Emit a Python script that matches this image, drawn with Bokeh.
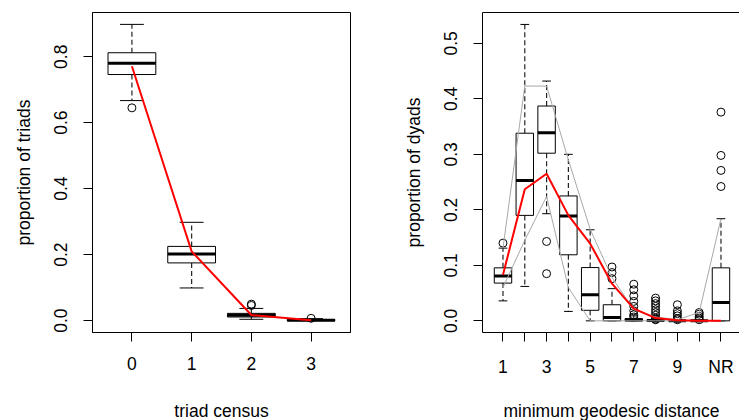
from bokeh.plotting import figure
from bokeh.layouts import row, column
from bokeh.models import Range1d, FixedTicker, PrintfTickFormatter, LinearAxis, ColumnDataSource
from bokeh.core.properties import value
from bokeh.embed import file_html
from bokeh.resources import INLINE

# ---------------- data: left panel (triad census) ----------------
left_cats = ["0", "1", "2", "3"]
l_q1 = [0.746, 0.175, 0.011, 0.0]
l_med = [0.780, 0.202, 0.016, 0.001]
l_q3 = [0.812, 0.225, 0.022, 0.003]
l_lo = [0.667, 0.099, 0.004, 0.0]
l_hi = [0.898, 0.298, 0.037, 0.006]
l_out = [[0.645], [], [0.046, 0.050], [0.007]]
l_obs = [0.771, 0.210, 0.017, 0.001]

# ---------------- data: right panel (geodesic distance) ----------------
right_cats = ["1", "2", "3", "4", "5", "6", "7", "8", "9", "10", "NR"]
r_q1 = [0.068, 0.190, 0.302, 0.119, 0.019, 0.0, 0.0, 0.0, 0.0, 0.0, 0.0]
r_med = [0.081, 0.253, 0.339, 0.189, 0.047, 0.006, 0.0015, 0.0005, 0.0, 0.0, 0.033]
r_q3 = [0.0955, 0.338, 0.387, 0.225, 0.096, 0.029, 0.004, 0.0015, 0.0005, 0.0005, 0.0955]
r_lo = [0.036, 0.062, 0.193, 0.017, 0.0, 0.0, 0.0, 0.0, 0.0, 0.0, 0.0]
r_hi = [0.131, 0.534, 0.432, 0.300, 0.164, 0.058, 0.009, 0.003, 0.001, 0.001, 0.184]
r_out = [
    [0.140],
    [],
    [0.143, 0.085],
    [],
    [],
    [0.097, 0.087, 0.076],
    [0.066, 0.056, 0.045, 0.035, 0.026, 0.018, 0.011, 0.007],
    [0.041, 0.036, 0.031, 0.026, 0.020, 0.015, 0.010, 0.005, 0.003, 0.002],
    [0.029, 0.018, 0.013, 0.009, 0.004, 0.002],
    [0.015, 0.012, 0.008, 0.005, 0.002],
    [0.376, 0.298, 0.271, 0.242],
]
r_obs = [0.083, 0.237, 0.265, 0.190, 0.139, 0.067, 0.022, 0.005, 0.001, 0.0, 0.0]
r_env_hi = [0.131, 0.423, 0.423, 0.290, 0.165, 0.078, 0.020, 0.007, 0.002, 0.015, 0.184]
r_env_lo = [0.060, 0.145, 0.224, 0.060, 0.0, 0.0, 0.0, 0.0, 0.0, 0.0, 0.0]

left_xtitle = "triad census"
left_ytitle = "proportion of triads"
right_xtitle = "minimum geodesic distance"
right_ytitle = "proportion of dyads"

FONT = "Liberation Sans"
FS = "17.5px"
BOXW = 0.8
CAPW = 0.4


def draw_boxes(p, q1, med, q3, lo, hi, outs):
    n = len(q1)
    xs = list(range(1, n + 1))
    src = ColumnDataSource(dict(
        x=xs,
        left=[x - BOXW / 2 for x in xs],
        right=[x + BOXW / 2 for x in xs],
        cl=[x - CAPW / 2 for x in xs],
        cr=[x + CAPW / 2 for x in xs],
        q1=q1, med=med, q3=q3, lo=lo, hi=hi,
    ))
    p.segment(x0="x", y0="q3", x1="x", y1="hi", source=src,
              line_color="#222222", line_width=1.2, line_dash="5 3")
    p.segment(x0="x", y0="q1", x1="x", y1="lo", source=src,
              line_color="#222222", line_width=1.2, line_dash="5 3")
    p.segment(x0="cl", y0="hi", x1="cr", y1="hi", source=src,
              line_color="black", line_width=1)
    p.segment(x0="cl", y0="lo", x1="cr", y1="lo", source=src,
              line_color="black", line_width=1)
    p.quad(left="left", right="right", bottom="q1", top="q3", source=src,
           fill_color="white", line_color="black", line_width=1)
    p.segment(x0="left", y0="med", x1="right", y1="med", source=src,
              line_color="black", line_width=3, line_cap="butt")
    ox, oy = [], []
    for i, vals in enumerate(outs):
        for v in vals:
            ox.append(i + 1)
            oy.append(v)
    p.scatter(ox, oy, marker="circle", size=8, fill_color=None,
              line_color="black", line_width=1)


def style(p, labels, yticks, ytitle):
    n = len(labels)
    p.xgrid.visible = False
    p.ygrid.visible = False
    p.background_fill_color = "white"
    p.border_fill_color = "white"
    p.xaxis.ticker = FixedTicker(ticks=list(range(1, n + 1)))
    p.xaxis.major_label_overrides = {i + 1: lab for i, lab in enumerate(labels)}
    p.yaxis.ticker = FixedTicker(ticks=yticks)
    p.yaxis.formatter = PrintfTickFormatter(format="%.1f")
    p.yaxis.major_label_orientation = "vertical"
    for ax in (p.xaxis, p.yaxis):
        ax.axis_line_color = "black"
        ax.major_tick_line_color = "black"
        ax.major_tick_out = 9
        ax.major_tick_in = 0
        ax.minor_tick_line_color = None
        ax.major_label_text_font = FONT
        ax.major_label_text_font_size = FS
        ax.major_label_text_color = "black"
        ax.axis_label_text_font = FONT
        ax.axis_label_text_font_size = FS
        ax.axis_label_text_font_style = "normal"
        ax.axis_label_text_color = "black"
    p.xaxis.major_label_standoff = 15
    p.yaxis.major_label_standoff = 16
    p.yaxis.axis_label = ytitle
    p.yaxis.axis_label_standoff = 18


def title_strip(width, text, xc):
    s = figure(width=width, height=25, output_backend="svg", toolbar_location=None,
               title=None,
               x_range=Range1d(0, width), y_range=Range1d(0, 25),
               x_axis_location=None, y_axis_location=None,
               min_border=0, min_border_left=0, min_border_right=0,
               min_border_top=0, min_border_bottom=0)
    s.outline_line_color = None
    s.border_fill_color = "white"
    s.background_fill_color = "white"
    s.xgrid.visible = False
    s.ygrid.visible = False
    s.text(x=[xc], y=[9.5], text=[text], text_align="center",
           text_baseline="alphabetic", text_font=value(FONT),
           text_font_size=value(FS), text_color="black")
    return s


# ---------------- left figure ----------------
p1 = figure(width=370, height=395, output_backend="svg", toolbar_location=None,
            title=None,
            x_range=Range1d(0.34, 4.66), y_range=Range1d(-0.036, 0.934),
            min_border_left=92, min_border_right=20, min_border_top=12,
            min_border_bottom=63)
p1.outline_line_color = "black"
p1.outline_line_width = 1
p1.outline_line_alpha = 1
draw_boxes(p1, l_q1, l_med, l_q3, l_lo, l_hi, l_out)
p1.line(list(range(1, len(l_obs) + 1)), l_obs, line_color="red", line_width=2)
style(p1, left_cats, [0.0, 0.2, 0.4, 0.6, 0.8], left_ytitle)

# ---------------- right figure ----------------
p2 = figure(width=369, height=395, output_backend="svg", toolbar_location=None,
            title=None,
            x_range=Range1d(0.06, 11.85), y_range=Range1d(-0.021, 0.5555),
            min_border_left=112, min_border_right=0, min_border_top=12,
            min_border_bottom=63)
p2.outline_line_color = None
draw_boxes(p2, r_q1, r_med, r_q3, r_lo, r_hi, r_out)
xs_r = list(range(1, len(right_cats) + 1))
p2.line(xs_r, r_env_hi, line_color="#a8a8a8", line_width=1)
p2.line(xs_r, r_env_lo, line_color="#a8a8a8", line_width=1)
p2.line(xs_r, r_obs, line_color="red", line_width=2)
style(p2, [lab if i % 2 == 0 else "" for i, lab in enumerate(right_cats)],
      [0.0, 0.1, 0.2, 0.3, 0.4, 0.5], right_ytitle)
top_ax = LinearAxis(ticker=FixedTicker(ticks=[]), axis_line_color="black",
                    major_tick_line_color=None, minor_tick_line_color=None,
                    major_label_text_font_size="0px")
p2.add_layout(top_ax, "above")

t1 = title_strip(370, left_xtitle, 221)
t2 = title_strip(369, right_xtitle, 241)

layout = column(row(p1, p2, spacing=0), row(t1, t2, spacing=0), spacing=0)
open("out.html", "w").write(file_html(layout, INLINE))
